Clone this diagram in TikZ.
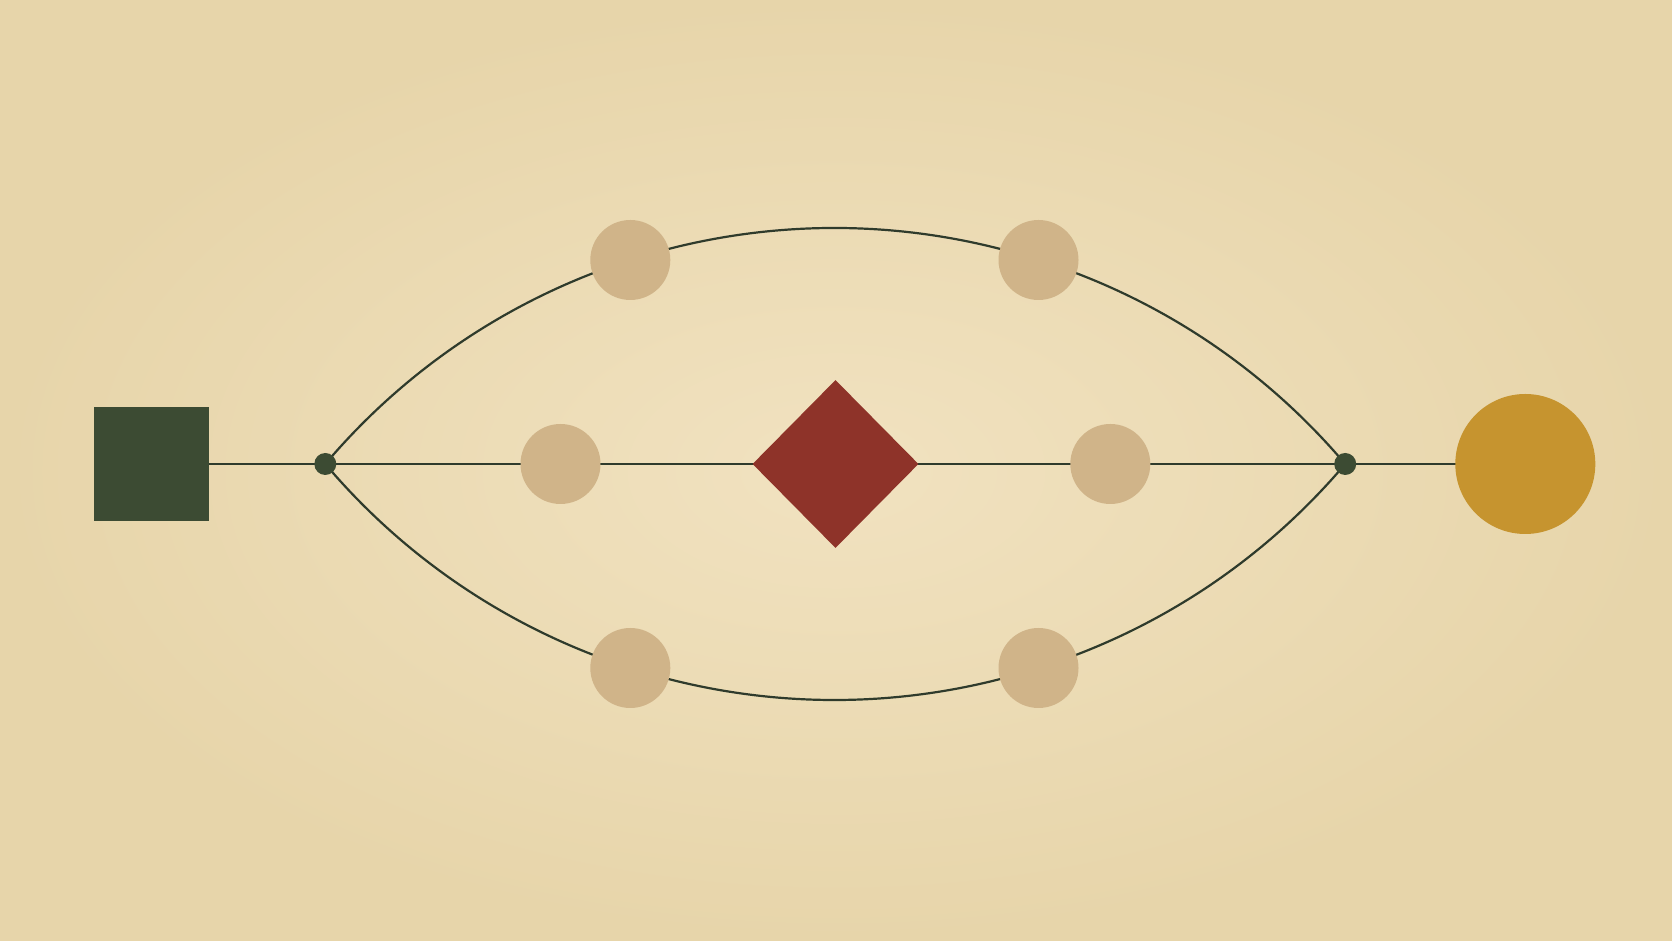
\documentclass[tikz,border=0pt]{standalone}
\usetikzlibrary{shapes.geometric}
\definecolor{paper}{HTML}{F1E2C0}
\definecolor{paperedge}{HTML}{E7D5AA}
\definecolor{forest}{HTML}{3C4B33}
\definecolor{ink}{HTML}{2F3B2C}
\definecolor{brick}{HTML}{8E3329}
\definecolor{sand}{HTML}{D0B489}
\definecolor{gold}{HTML}{C6942F}
\pgfdeclarelayer{wires}
\pgfdeclarelayer{bg}
\pgfsetlayers{bg,wires,main}
\tikzset{
  wire/.style={draw=ink, line width=2.2pt},
  sandnode/.style={circle, fill=sand, minimum size=80pt, inner sep=0pt},
  junction/.style={circle, fill=forest, minimum size=22pt, inner sep=0pt},
}
\begin{document}
\begin{tikzpicture}[x=1pt,y=1pt]
  \useasboundingbox (0,0) rectangle (1672,941);
  \begin{pgfonlayer}{bg}
    \shade[inner color=paper, outer color=paperedge] (0,0) rectangle (1672,941);
  \end{pgfonlayer}

  % nodes
  \node[rectangle, fill=forest, minimum width=115pt, minimum height=114pt, inner sep=0pt] (src) at (151.7,477) {};
  \node[junction] (jL) at (325.3,477) {};
  \node[junction] (jR) at (1345.2,477) {};
  \node[sandnode] (t1) at (630.3,681) {};
  \node[sandnode] (t2) at (1038.5,681) {};
  \node[sandnode] (m1) at (560.5,477) {};
  \node[sandnode] (m2) at (1110.3,477) {};
  \node[sandnode] (b1) at (630.3,273) {};
  \node[sandnode] (b2) at (1038.5,273) {};
  \node[diamond, fill=brick, minimum width=166pt, minimum height=168pt, inner sep=0pt, aspect=1] (dia) at (835.5,477) {};
  \node[circle, fill=gold, minimum size=140pt, inner sep=0pt] (sink) at (1525.3,477) {};

  \begin{pgfonlayer}{wires}
    % straight line
    \draw[wire] (src.center) -- (jL.center);
    \draw[wire] (jL.center) -- (m1.center);
    \draw[wire] (m1.center) -- (dia.center);
    \draw[wire] (dia.center) -- (m2.center);
    \draw[wire] (m2.center) -- (jR.center);
    \draw[wire] (jR.center) -- (sink.center);

    % upper arc (circle of radius ~667)
    \draw[wire] (jL.center) to[bend left=16, looseness=0.87] (t1.center);
    \draw[wire] (t1.center) to[bend left=17.8, looseness=0.877] (t2.center);
    \draw[wire] (t2.center) to[bend left=16.1, looseness=0.87] (jR.center);

    % lower arc
    \draw[wire] (jL.center) to[bend right=16, looseness=0.87] (b1.center);
    \draw[wire] (b1.center) to[bend right=17.8, looseness=0.877] (b2.center);
    \draw[wire] (b2.center) to[bend right=16.1, looseness=0.87] (jR.center);
  \end{pgfonlayer}
\end{tikzpicture}
\end{document}
